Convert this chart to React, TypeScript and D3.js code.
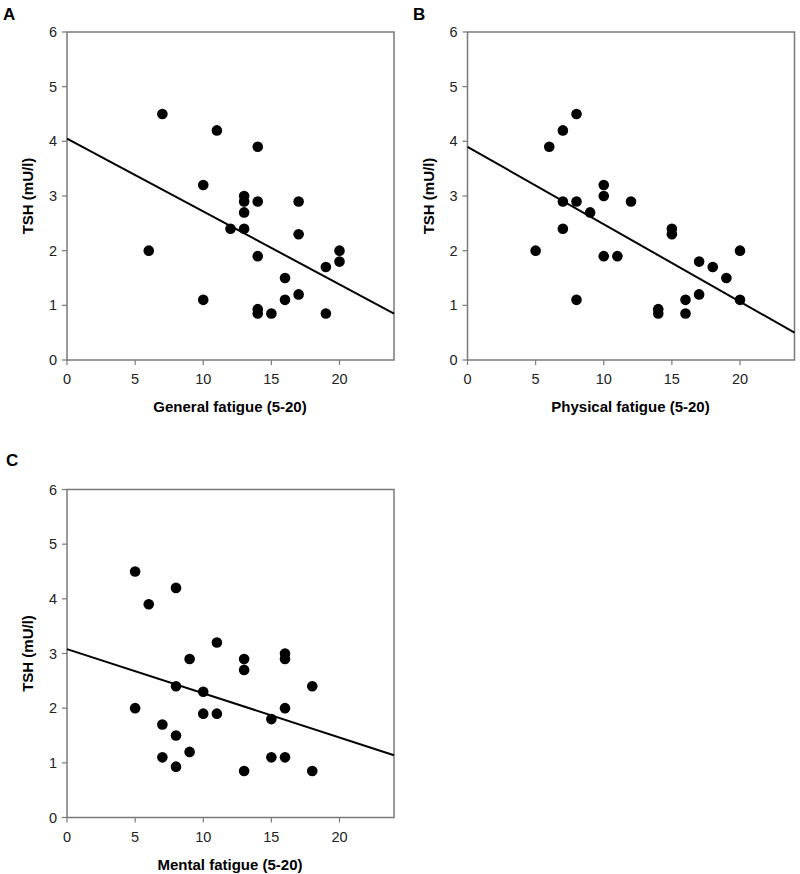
import React from "react";
import * as d3 from "d3";

// Panel A: General fatigue vs TSH
const generalX = [7, 11, 14, 10, 13, 13, 14, 17, 13, 12, 13, 17, 6, 20, 14, 20, 19, 16, 17, 10, 16, 14, 14, 15, 19];
const generalY = [4.5, 4.2, 3.9, 3.2, 3.0, 2.9, 2.9, 2.9, 2.7, 2.4, 2.4, 2.3, 2.0, 2.0, 1.9, 1.8, 1.7, 1.5, 1.2, 1.1, 1.1, 0.93, 0.85, 0.85, 0.85];
const generalLine = [4.05, 0.85]; // TSH at x=0 and x=24

// Panel B: Physical fatigue vs TSH
const physicalX = [8, 7, 6, 10, 10, 7, 8, 12, 9, 7, 15, 15, 5, 20, 10, 11, 17, 18, 19, 17, 8, 16, 20, 14, 14, 16];
const physicalY = [4.5, 4.2, 3.9, 3.2, 3.0, 2.9, 2.9, 2.9, 2.7, 2.4, 2.4, 2.3, 2.0, 2.0, 1.9, 1.9, 1.8, 1.7, 1.5, 1.2, 1.1, 1.1, 1.1, 0.93, 0.85, 0.85];
const physicalLine = [3.9, 0.5];

// Panel C: Mental fatigue vs TSH
const mentalX = [5, 6, 8, 11, 9, 13, 13, 16, 16, 8, 10, 5, 10, 11, 18, 16, 15, 7, 8, 9, 7, 8, 15, 16, 13, 18];
const mentalY = [4.5, 3.9, 4.2, 3.2, 2.9, 2.9, 2.7, 3.0, 2.9, 2.4, 2.3, 2.0, 1.9, 1.9, 2.4, 2.0, 1.8, 1.7, 1.5, 1.2, 1.1, 0.93, 1.1, 1.1, 0.85, 0.85];
const mentalLine = [3.08, 1.14];

const xTicks = [0, 5, 10, 15, 20];
const yTicks = [0, 1, 2, 3, 4, 5, 6];
const xDomain = [0, 24];
const yDomain = [0, 6];

const FONT = "'Liberation Sans', Arial, sans-serif";
const AXIS = "#7a7a7a";

type PanelProps = {
  letter: string;
  letterX: number;
  letterY: number;
  left: number;
  top: number;
  width: number;
  height: number;
  xs: number[];
  ys: number[];
  line: number[];
  xLabel: string;
};

function Panel({ letter, letterX, letterY, left, top, width, height, xs, ys, line, xLabel }: PanelProps) {
  const x = d3.scaleLinear().domain(xDomain).range([left, left + width]);
  const y = d3.scaleLinear().domain(yDomain).range([top + height, top]);
  const lineGen = d3
    .line<[number, number]>()
    .x((d) => x(d[0]))
    .y((d) => y(d[1]));
  const linePts: [number, number][] = [
    [xDomain[0], line[0]],
    [xDomain[1], line[1]],
  ];
  const bottom = top + height;
  return (
    <g>
      <text x={letterX} y={letterY} fontFamily={FONT} fontWeight="bold" fontSize={17} fill="#000">
        {letter}
      </text>
      <rect x={left} y={top} width={width} height={height} fill="none" stroke={AXIS} strokeWidth={1.5} />
      {yTicks.map((t) => (
        <g key={"y" + t}>
          <line x1={left - 5} x2={left} y1={y(t)} y2={y(t)} stroke={AXIS} strokeWidth={1.2} />
          <text
            x={left - 10}
            y={y(t)}
            dy="0.35em"
            textAnchor="end"
            fontFamily={FONT}
            fontSize={14.5}
            fill="#222"
          >
            {t}
          </text>
        </g>
      ))}
      {xTicks.map((t) => (
        <g key={"x" + t}>
          <line x1={x(t)} x2={x(t)} y1={bottom} y2={bottom + 5} stroke={AXIS} strokeWidth={1.2} />
          <text x={x(t)} y={bottom + 19} dy="0.35em" textAnchor="middle" fontFamily={FONT} fontSize={14.5} fill="#222">
            {t}
          </text>
        </g>
      ))}
      <path d={lineGen(linePts) || ""} stroke="#000" strokeWidth={2} fill="none" />
      {xs.map((v, i) => (
        <circle key={i} cx={x(v)} cy={y(ys[i])} r={5.3} fill="#000" />
      ))}
      <text
        transform={`translate(${left - 39},${top + height / 2}) rotate(-90)`}
        textAnchor="middle"
        dy="0.35em"
        fontFamily={FONT}
        fontWeight="bold"
        fontSize={15}
        fill="#000"
      >
        TSH (mU/l)
      </text>
      <text
        x={left + 163}
        y={bottom + 47}
        dy="0.35em"
        textAnchor="middle"
        fontFamily={FONT}
        fontWeight="bold"
        fontSize={15}
        fill="#000"
      >
        {xLabel}
      </text>
    </g>
  );
}

export default function App() {
  return (
    <svg width={800} height={874} style={{ position: "absolute", left: 0, top: 0, background: "#fff" }}>
      <rect x={0} y={0} width={800} height={874} fill="#fff" />
      <Panel
        letter="A"
        letterX={3}
        letterY={20}
        left={67}
        top={32}
        width={327}
        height={328}
        xs={generalX}
        ys={generalY}
        line={generalLine}
        xLabel="General fatigue (5-20)"
      />
      <Panel
        letter="B"
        letterX={413}
        letterY={20}
        left={467.5}
        top={32}
        width={327}
        height={328}
        xs={physicalX}
        ys={physicalY}
        line={physicalLine}
        xLabel="Physical fatigue (5-20)"
      />
      <Panel
        letter="C"
        letterX={6}
        letterY={466}
        left={67}
        top={489.5}
        width={327}
        height={328}
        xs={mentalX}
        ys={mentalY}
        line={mentalLine}
        xLabel="Mental fatigue (5-20)"
      />
    </svg>
  );
}
